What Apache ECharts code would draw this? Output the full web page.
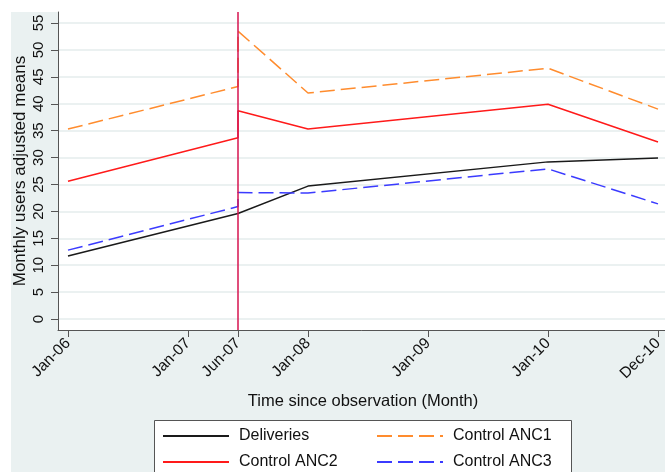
<!DOCTYPE html>
<html><head><meta charset="utf-8">
<script src="https://cdn.jsdelivr.net/npm/echarts@6/dist/echarts.min.js"></script>
<style>
html,body{margin:0;padding:0;background:#fff;}
#bg{position:absolute;left:11px;top:12px;width:654px;height:460px;background:#eaf1f1;}
#chart{position:absolute;left:0;top:0;width:665px;height:472px;}
</style></head><body>
<div id="bg"></div><div id="chart"></div>
<script>
// Months since Jan-06
const months = [0, 17, 17, 24, 48, 59];
const deliveries  = [11.7, 19.6, 19.6, 24.7, 29.2, 29.9];
const controlANC1 = [35.3, 43.2, 53.5, 42.0, 46.6, 39.0];
const controlANC2 = [25.6, 33.7, 38.7, 35.3, 39.9, 32.9];
const controlANC3 = [12.8, 20.9, 23.5, 23.4, 27.9, 21.4];
const tickMonths = [0, 12, 17, 24, 36, 48, 59];
const tickLabels = ['Jan-06', 'Jan-07', 'Jun-07', 'Jan-08', 'Jan-09', 'Jan-10', 'Dec-10'];
const yTicks = [0, 5, 10, 15, 20, 25, 30, 35, 40, 45, 50, 55];
const interventionMonth = 17;
const legendLeftColumn = ['Deliveries', 'Control ANC2'];
const legendRightColumn = ['Control ANC1', 'Control ANC3'];

const FONT = 'Liberation Sans, Arial, Helvetica, sans-serif';
const toPts = vals => months.map((m, i) => [m, vals[i]]);

const legendCommon = {
  top: 420, orient: 'vertical', z: 10,
  padding: [8, 0, 0, 8],
  itemWidth: 66, itemHeight: 16, itemGap: 10,
  itemStyle: {opacity: 0, borderWidth: 0},
  textStyle: {fontSize: 16, color: '#111', fontFamily: FONT, padding: [0, 0, 0, 5]}
};

const chart = echarts.init(document.getElementById('chart'), null, {renderer: 'canvas'});
chart.setOption({
  animation: false,
  backgroundColor: 'transparent',
  textStyle: {fontFamily: FONT},
  grid: {left: 58, top: 12, width: 610, height: 318, show: true, backgroundColor: '#fff', borderWidth: 0,
    containLabel: false, outerBoundsMode: 'none'},
  graphic: [{
    type: 'rect', z: 1, silent: true,
    shape: {x: 154.5, y: 420.5, width: 417, height: 70},
    style: {fill: '#fff', stroke: '#555', lineWidth: 1}
  }],
  xAxis: {
    type: 'value', min: -1, max: 60,
    name: 'Time since observation (Month)', nameLocation: 'middle', nameGap: 63,
    nameMoveOverlap: false,
    nameTextStyle: {fontSize: 16.5, color: '#111', fontFamily: FONT},
    axisLine: {show: true, onZero: false, lineStyle: {color: '#555', width: 1}},
    axisTick: {show: true, customValues: tickMonths, length: 7, lineStyle: {color: '#555'}},
    axisLabel: {customValues: tickMonths, rotate: 45, margin: 11, fontSize: 15.5, color: '#111', fontFamily: FONT,
      formatter: v => tickLabels[tickMonths.indexOf(v)] || ''},
    splitLine: {show: false}
  },
  yAxis: {
    type: 'value', min: -2.04, max: 57.05,
    name: 'Monthly users adjusted means', nameLocation: 'middle', nameGap: 29,
    nameMoveOverlap: false,
    nameTextStyle: {fontSize: 17, color: '#111', fontFamily: FONT},
    axisLine: {show: true, onZero: false, lineStyle: {color: '#555', width: 1}},
    axisTick: {show: true, customValues: yTicks, length: 7, lineStyle: {color: '#555'}},
    axisLabel: {customValues: yTicks, rotate: 90, margin: 12, fontSize: 15, color: '#111', fontFamily: FONT},
    splitLine: {show: true, lineStyle: {color: '#e5ecec', width: 1.5}}
  },
  legend: [
    Object.assign({left: 154, data: legendLeftColumn}, legendCommon),
    Object.assign({left: 368, data: legendRightColumn}, legendCommon)
  ],
  series: [
    {name: 'Deliveries', type: 'line', symbol: 'none', data: toPts(deliveries),
      lineStyle: {color: '#1a1a1a', width: 1.5}, itemStyle: {color: '#1a1a1a'},
      markLine: {silent: true, symbol: ['none', 'none'], label: {show: false},
        lineStyle: {color: '#d6134f', width: 1.5, type: 'solid'},
        data: [{xAxis: interventionMonth}]}},
    {name: 'Control ANC1', type: 'line', symbol: 'none', data: toPts(controlANC1),
      lineStyle: {color: '#ff8c2e', width: 1.5, type: [15, 6]}, itemStyle: {color: '#ff8c2e'}},
    {name: 'Control ANC2', type: 'line', symbol: 'none', data: toPts(controlANC2),
      lineStyle: {color: '#ff1a1a', width: 1.5}, itemStyle: {color: '#ff1a1a'}},
    {name: 'Control ANC3', type: 'line', symbol: 'none', data: toPts(controlANC3),
      lineStyle: {color: '#3b3bff', width: 1.5, type: [15, 6]}, itemStyle: {color: '#3b3bff'}}
  ]
});
</script>
</body></html>
